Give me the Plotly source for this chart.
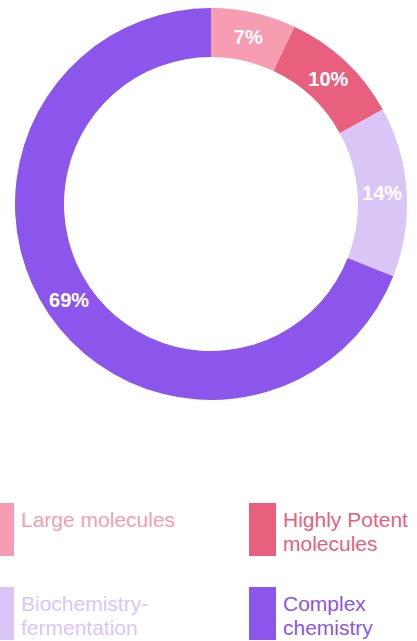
import plotly.graph_objects as go

labels = ["Large molecules", "Highly Potent molecules", "Biochemistry-fermentation", "Complex chemistry"]
legend_lines = [["Large molecules"], ["Highly Potent", "molecules"], ["Biochemistry-", "fermentation"], ["Complex", "chemistry"]]
values = [7, 10, 14, 69]
colors = ["#F69DB1", "#E8607D", "#D9C6F6", "#8C55EC"]

W, H = 417, 641

fig = go.Figure(go.Pie(
    labels=labels, values=values, sort=False, direction="clockwise", rotation=0,
    hole=0.75,
    marker=dict(colors=colors, line=dict(color="white", width=0)),
    texttemplate="%{value}%", textposition="inside", insidetextorientation="horizontal",
    textfont=dict(family="Liberation Sans, Arial", size=20, color="white", weight="bold"),
    domain=dict(x=[15 / W, 407 / W], y=[1 - 400 / H, 1 - 8 / H]),
    showlegend=False, hoverinfo="label+percent",
))

# custom legend (2x2 grid)
col_x = [-13, 249]
row_y = [503, 587]
shapes, annotations = [], []
for i, (lines, c) in enumerate(zip(legend_lines, colors)):
    cx = col_x[i % 2]
    ry = row_y[i // 2]
    shapes.append(dict(type="rect", xref="paper", yref="paper",
                       x0=cx / W, x1=(cx + 27) / W, y0=1 - (ry + 53) / H, y1=1 - ry / H,
                       fillcolor=c, line=dict(width=0)))
    for j, t in enumerate(lines):
        yc = ry + 16 + 24 * j
        annotations.append(dict(text=t, xref="paper", yref="paper", x=(cx + 32) / W, y=1 - yc / H,
                                xanchor="left", yanchor="middle", showarrow=False,
                                font=dict(family="Liberation Sans, Arial", size=21, color=c)))

fig.update_layout(
    width=W, height=H, margin=dict(l=0, r=0, t=0, b=0),
    paper_bgcolor="white", plot_bgcolor="white",
    shapes=shapes, annotations=annotations,
)
fig.write_html("out.html", config={"displayModeBar": False},
               post_script="document.body.style.margin='0';document.body.style.overflow='hidden';")
